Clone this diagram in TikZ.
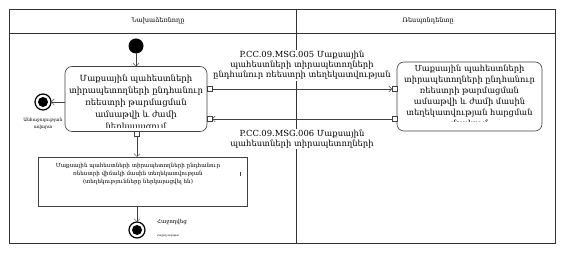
\documentclass[tikz,border=0pt]{standalone}
\usepackage{fontspec}
\setmainfont{DejaVu Serif}
\usetikzlibrary{arrows.meta}
\begin{document}
\begin{tikzpicture}[x=1pt,y=-1pt,
  every node/.style={inner sep=0pt, outer sep=0pt},
  lbl/.style={font=\fontsize{8.4}{10}\selectfont, align=center, fill=white, inner sep=1pt},
  acttext/.style={font=\fontsize{8.5}{12}\selectfont, align=center},
  act/.style={draw=black!75, rounded corners=7pt, line width=0.6pt},
  pinbox/.style={draw=black!75, fill=white, minimum size=5pt, line width=0.5pt},
  flow/.style={draw=black!75, line width=0.5pt, -{Straight Barb[length=3pt,width=6pt]}},
  initnode/.style={circle, fill=black, minimum size=15pt},
  finalnode/.style={circle, draw=black, line width=1.2pt, fill=white, minimum size=16pt, path picture={\fill[black] (path picture bounding box.center) circle (5pt);}},
  ]
\useasboundingbox (0,0) rectangle (565,253);
% frame
\draw[black!80, line width=0.6pt] (9,9) rectangle (555,243);
\draw[black!80, line width=0.6pt] (9,33) -- (555,33);
\draw[black!80, line width=0.6pt] (296,9) -- (296,243);
\node[font=\fontsize{6.5}{8}\selectfont] (h1) at (158,21) {Նախաձեռնողը};
\node[font=\fontsize{6.5}{8}\selectfont] (h2) at (428,21) {Ռեսպոնդենտը};

% initial
\node[initnode] (start) at (136,46) {};

% activity 1
\node[act, minimum width=142pt, minimum height=65pt] (a1) at (136,99) {};
\begin{scope}
\clip (66,67) rectangle (206,128);
\node[acttext] (t1) at (136,103) {Մաքսային պահեստների\\տիրապետողների ընդհանուր\\ռեեստրի թարմացման\\ամսաթվի և ժամի\\ներկայացում};
\end{scope}

% activity 2
\node[act, minimum width=145pt, minimum height=69pt] (a2) at (469.5,96.5) {};
\begin{scope}
\clip (398,63) rectangle (541,121.5);
\node[font=\fontsize{8.3}{11}\selectfont, align=center] (t2) at (469.5,96.5) {Մաքսային պահեստների\\տիրապետողների ընդհանուր\\ռեեստրի թարմացման\\ամսաթվի և ժամի մասին\\տեղեկատվության հարցման\\մշակում};
\end{scope}

% pins
\node[pinbox] (p1a) at (209.5,89) {};
\node[pinbox] (p1b) at (209.5,119) {};
\node[pinbox] (p2a) at (394.5,89) {};
\node[pinbox] (p2b) at (394.5,119) {};
\node[pinbox] (p1c) at (137,133.5) {};

\draw[flow] (start) -- (a1.north -| start);
\draw[flow] (p1a) -- (p2a);
\draw[flow] (p2b) -- (p1b);

\node[lbl] (m5) at (302,65.5) {P.CC.09.MSG.005 Մաքսային\\պահեստների տիրապետողների\\ընդհանուր ռեեստրի տեղեկատվության};
\node[lbl] (m6) at (302,139) {P.CC.09.MSG.006 Մաքսային\\պահեստների տիրապետողների};

% fail final
\node[finalnode] (fail) at (43,102) {};
\draw[flow] (a1.west |- fail) -- (fail);
\node[font=\fontsize{4.5}{7}\selectfont, align=center] (fl) at (43,124) {Անհաջողության\\ավարտ};

% activity 3
\node[draw=black!75, line width=0.6pt, minimum width=209pt, minimum height=49pt] (a3) at (142.5,181.5) {};
\node[font=\fontsize{5.6}{8}\selectfont, align=center] (t3) at (138,174) {Մաքսային պահեստների տիրապետողների ընդհանուր\\ռեեստրի վիճակի մասին տեղեկատվության\\(տեղեկությունները ներկայացվել են)};
\draw[black!75, line width=0.4pt] (240,172) -- (240,176);
\draw[flow] (p1c) -- (a3.north -| p1c);

% success final
\node[finalnode] (ok) at (137,230) {};
\draw[flow] (a3.south -| ok) -- (ok);
\node[font=\fontsize{5.5}{7}\selectfont] (okl) at (172,222) {Հաջողվեց};
\node[font=\fontsize{2.8}{4}\selectfont] (okt) at (168,236) {Հաջող ավարտ};
\end{tikzpicture}
\end{document}
